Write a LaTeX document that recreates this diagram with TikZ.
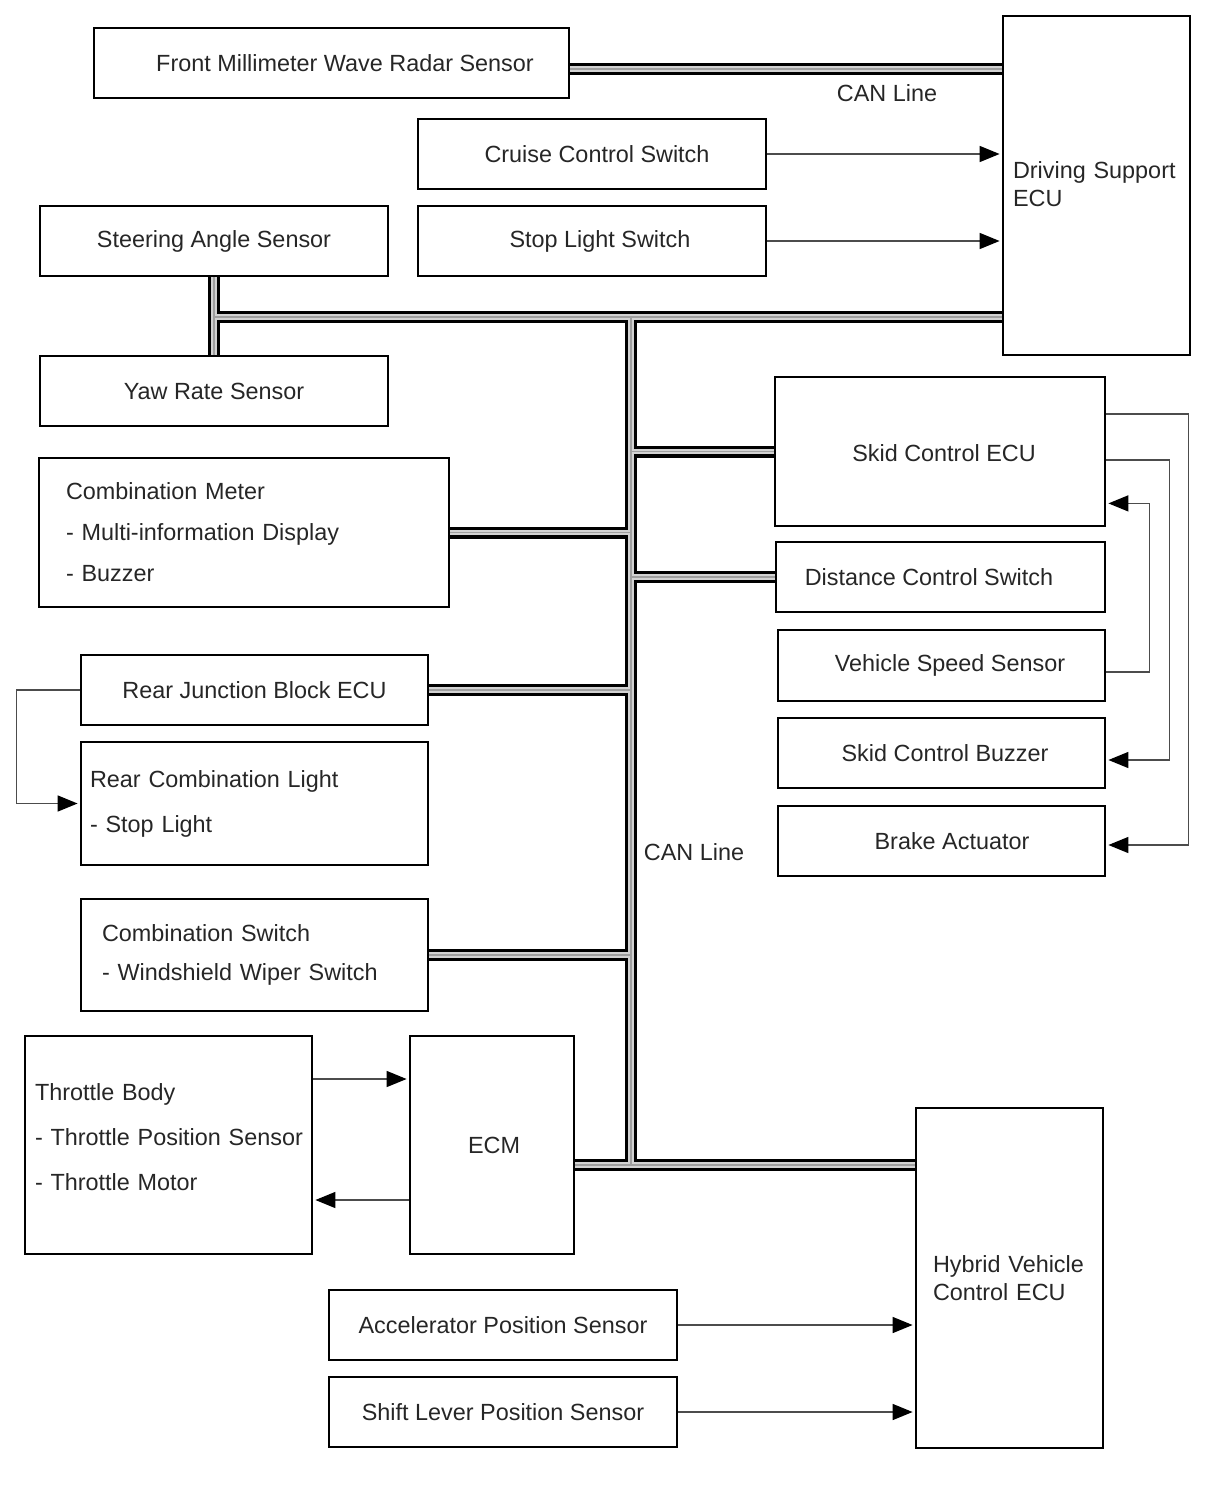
\documentclass[tikz,border=0pt]{standalone}
\usepackage{fontspec}
\setmainfont{Liberation Sans}
\usetikzlibrary{arrows.meta}
\newcommand{\boxfont}{\fontsize{11.7}{14}\selectfont}
\tikzset{
  box/.style={draw=black, line width=1.4pt, inner sep=0pt, font=\boxfont, text=black!85},
  boxsize/.style 2 args={minimum width=#1, minimum height=#2},
  leftbox/.style={align=left, text width=#1},
  label text/.style={font=\boxfont, text=black!85, inner sep=0pt},
  link/.style={draw=gray!60!black, line width=0.75pt, -{Triangle[length=10pt,width=8pt,color=black]}, shorten >=1pt},
  canbus/.style={draw=black, line width=6pt, postaction={draw=gray!35, line width=2.8pt}, postaction={draw=gray!75, line width=0.9pt}}
}

\begin{document}
\begin{tikzpicture}[x=0.5pt, y=-0.5pt]
  \useasboundingbox (0,0) rectangle (1210,1498);

  % Top row
  \node[box, boxsize={237.5pt}{35pt}] (radar) at (331.5,63) {\hspace*{13.5pt}Front Millimeter Wave Radar Sensor};
  \node[box, boxsize={93.5pt}{169.5pt}, leftbox=83.5pt] (dsecu) at (1096.5,185.5) {\mbox{Driving Support}\\ECU\par\vspace{1.5pt}\hrule height 0pt};
  \node[box, boxsize={174pt}{35pt}] (ccs) at (592,154) {\hspace*{5pt}Cruise Control Switch};
  \node[box, boxsize={174pt}{35pt}] (sls) at (592,241) {\hspace*{8pt}Stop Light Switch};
  \node[box, boxsize={174pt}{35pt}] (steer) at (214,241) {Steering Angle Sensor};
  \node[box, boxsize={174pt}{35pt}] (yaw) at (214,391) {Yaw Rate Sensor};

  % Left column
  \node[box, boxsize={205pt}{74.5pt}, leftbox=178pt] (cmeter) at (244,532.5)
    {Combination Meter\\[6.5pt]- Multi-information Display\\[6.5pt]- Buzzer};
  \node[box, boxsize={173.5pt}{35pt}] (rjb) at (254.5,690) {Rear Junction Block ECU};
  \node[box, boxsize={173.5pt}{61.5pt}, leftbox=164.5pt] (rcl) at (254.5,803.5)
    {Rear Combination Light\\[8.5pt]- Stop Light};
  \node[box, boxsize={173.5pt}{56pt}, leftbox=152.5pt] (cswitch) at (254.5,955)
    {Combination Switch\\[5.5pt]\mbox{- Windshield Wiper Switch}};
  \node[box, boxsize={143.5pt}{109pt}, leftbox=133.5pt] (tbody) at (168.5,1145)
    {Throttle Body\\[8.5pt]\mbox{- Throttle Position Sensor}\\[8.5pt]- Throttle Motor\par\vspace{8pt}\hrule height 0pt};
  \node[box, boxsize={82pt}{109pt}] (ecm) at (492,1145) {\hspace*{2pt}ECM};

  % Bottom
  \node[box, boxsize={93.5pt}{170pt}, leftbox=76.5pt] (hv) at (1009.5,1278) {\mbox{Hybrid Vehicle}\\\mbox{Control ECU}};
  \node[box, boxsize={174pt}{35pt}] (aps) at (503,1325) {Accelerator Position Sensor};
  \node[box, boxsize={174pt}{35pt}] (slps) at (503,1412) {Shift Lever Position Sensor};

  % Right column
  \node[box, boxsize={165pt}{74.5pt}] (skid) at (940,451.5) {\hspace*{4pt}\raisebox{-2.25pt}[8pt][2.5pt]{Skid Control ECU}};
  \node[box, boxsize={164.5pt}{35pt}] (dcs) at (940.5,577) {Distance Control Switch\hspace*{11.5pt}};
  \node[box, boxsize={163.5pt}{35.5pt}] (vss) at (941.5,665.5) {\hspace*{8.5pt}Vehicle Speed Sensor};
  \node[box, boxsize={163.5pt}{35pt}] (buzzer) at (941.5,753) {\hspace*{3.5pt}Skid Control Buzzer};
  \node[box, boxsize={163.5pt}{35pt}] (brake) at (941.5,841) {\hspace*{10.5pt}Brake Actuator};

  % CAN labels
  \node[label text] (cantop) at (887,93) {CAN Line};
  \node[label text] (canmid) at (694,852) {CAN Line};

  % CAN bus
  \coordinate (trunk top) at (631,317);
  \coordinate (trunk bottom) at (631,1165);
  \coordinate (radarbus) at ([yshift=-3pt]radar.east);
  \draw[canbus] (radarbus) -- (radarbus -| dsecu.west);
  \draw[canbus] (steer.south) -- (yaw.north)
    (trunk top -| steer.south) -- (trunk top -| dsecu.west)
    (trunk top) -- (trunk bottom)
    (skid.west -| trunk top) -- (skid.west)
    (cmeter.east) -- (cmeter.east -| trunk top)
    (dcs.west -| trunk top) -- (dcs.west)
    (rjb.east) -- (rjb.east -| trunk top)
    (cswitch.east) -- (cswitch.east -| trunk top)
    (trunk bottom -| ecm.east) -- (trunk bottom -| hv.west);

  % Signal lines
  \draw[link] (ccs.east) -- (ccs.east -| dsecu.west);
  \draw[link] (sls.east) -- (sls.east -| dsecu.west);
  \draw[link] (aps.east) -- (aps.east -| hv.west);
  \draw[link] (slps.east) -- (slps.east -| hv.west);
  \coordinate (tin) at ([yshift=33pt]tbody.east);
  \coordinate (tout) at ([yshift=-27.5pt]ecm.west);
  \draw[link] (tin) -- (tin -| ecm.west);
  \draw[link] (tout) -- (tout -| tbody.east);
  \draw[link] (rjb.west) -- ++(-63,0) |- (rcl.west);
  \draw[link] ([yshift=18.75pt]skid.east) -- ++(82,0) |- ([yshift=-2pt]brake.east);
  \draw[link] ([yshift=-4.25pt]skid.east) -- ++(63,0) |- ([yshift=-3.5pt]buzzer.east);
  \draw[link] ([yshift=-3.25pt]vss.east) -- ++(43,0) |- ([yshift=12pt]skid.south east);
\end{tikzpicture}
\end{document}
